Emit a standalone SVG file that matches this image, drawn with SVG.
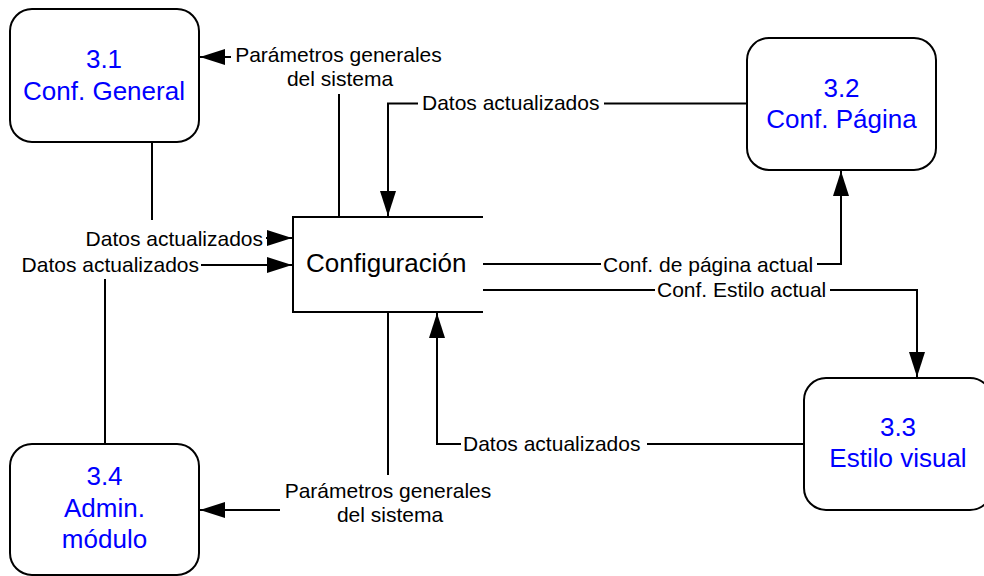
<svg xmlns="http://www.w3.org/2000/svg" width="984" height="576" viewBox="0 0 984 576">
<style>
.node{fill:#fff;stroke:#000;stroke-width:2}
.nt{font-family:"Liberation Sans",Arial,sans-serif;font-size:26px;fill:#0000ff;text-anchor:middle}
.pt{font-family:"Liberation Sans",Arial,sans-serif;font-size:26px;fill:#000}
.lbl{font-family:"Liberation Sans",Arial,sans-serif;font-size:21px;fill:#000}
.c{fill:none;stroke:#000;stroke-width:2}
.a{fill:none;stroke:#000;stroke-width:2;marker-end:url(#arr)}
</style>
<defs>
<marker id="arr" viewBox="0 0 25 16" refX="25" refY="8" markerWidth="25" markerHeight="16" markerUnits="userSpaceOnUse" orient="auto">
<path d="M0,0 L25,8 L0,16 z" fill="#000"/>
</marker>
</defs>
<rect width="984" height="576" fill="#fff"/>
<g id="connectors">
<!-- Parámetros generales -> 3.1 -->
<path class="c" d="M339,216 V94"/>
<path class="a" d="M231,57 H200"/>
<text class="lbl" x="338.5" y="62" text-anchor="middle">Parámetros generales</text>
<text class="lbl" x="340" y="86" text-anchor="middle">del sistema</text>
<!-- 3.2 -> Configuración -->
<path class="c" d="M747,103.5 H604"/>
<path class="a" d="M418,103.5 H388 V216"/>
<text class="lbl" x="422" y="110">Datos actualizados</text>
<!-- 3.1 -> Configuración -->
<path class="c" d="M152,142 V220"/>
<path class="a" d="M266,238 H292"/>
<text class="lbl" x="263" y="246" text-anchor="end">Datos actualizados</text>
<!-- 3.4 -> Configuración -->
<path class="c" d="M105,444 V279"/>
<path class="a" d="M201,265 H292"/>
<text class="lbl" x="199" y="272" text-anchor="end">Datos actualizados</text>
<!-- Configuración -> 3.2 -->
<path class="c" d="M483,264 H601"/>
<path class="a" d="M817,264 H841 V171"/>
<text class="lbl" x="603" y="272">Conf. de página actual</text>
<!-- Configuración -> 3.3 -->
<path class="c" d="M483,290 H655"/>
<path class="a" d="M830,290 H917 V377"/>
<text class="lbl" x="657" y="297">Conf. Estilo actual</text>
<!-- 3.3 -> Configuración -->
<path class="c" d="M804,444 H647"/>
<path class="a" d="M461,444 H437 V313"/>
<text class="lbl" x="463" y="451">Datos actualizados</text>
<!-- Configuración -> 3.4 -->
<path class="c" d="M388,312 V475"/>
<path class="a" d="M280,510 H200"/>
<text class="lbl" x="388" y="498" text-anchor="middle">Parámetros generales</text>
<text class="lbl" x="390" y="522" text-anchor="middle">del sistema</text>
</g>
<g id="config">
<path class="c" d="M483,217 H293 V312 H483"/>
<text class="pt" x="306" y="272">Configuración</text>
</g>
<g id="n31">
<rect class="node" x="10" y="9" width="189" height="133" rx="22" ry="22"/>
<text class="nt" x="104" y="68">3.1</text>
<text class="nt" x="104" y="100">Conf. General</text>
</g>
<g id="n32">
<rect class="node" x="747" y="38" width="189" height="132" rx="22" ry="22"/>
<text class="nt" x="841.5" y="97">3.2</text>
<text class="nt" x="841.5" y="128">Conf. Página</text>
</g>
<g id="n33">
<rect class="node" x="804" y="378" width="188" height="132" rx="22" ry="22"/>
<text class="nt" x="898" y="436">3.3</text>
<text class="nt" x="898" y="467">Estilo visual</text>
</g>
<g id="n34">
<rect class="node" x="10" y="444" width="189" height="131" rx="22" ry="22"/>
<text class="nt" x="104.5" y="485">3.4</text>
<text class="nt" x="104.5" y="517">Admin.</text>
<text class="nt" x="104.5" y="548">módulo</text>
</g>
</svg>
